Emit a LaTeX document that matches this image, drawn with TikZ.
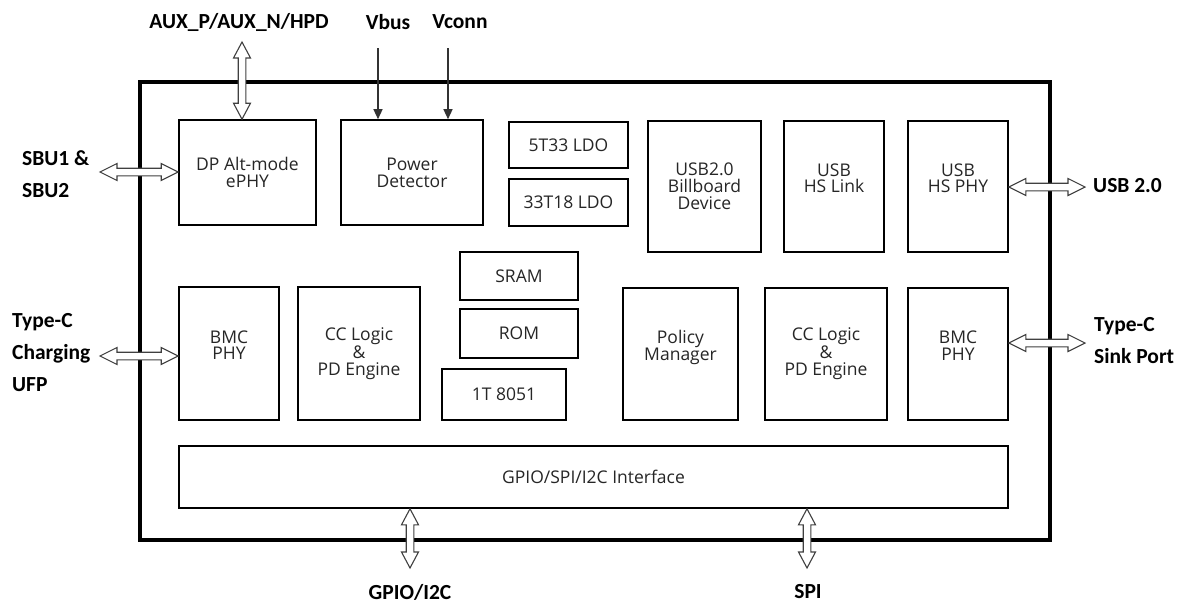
\documentclass[tikz,border=0pt]{standalone}
\usepackage{fontspec}
\setmainfont{Open Sans}
\newfontfamily\lblfont{Carlito}
\usetikzlibrary{calc,arrows.meta}
% hollow double arrows (horizontal / vertical) between two coordinates
\newcommand\hdarrow[2]{%
  \draw[harrow] let \p1=#1, \p2=#2 in
    (\x1,\y1) -- (\x1+17pt,\y1+8.5pt) -- (\x1+17pt,\y1+3.8pt) -- (\x2-17pt,\y1+3.8pt)
    -- (\x2-17pt,\y1+8.5pt) -- (\x2,\y1) -- (\x2-17pt,\y1-8.5pt) -- (\x2-17pt,\y1-3.8pt)
    -- (\x1+17pt,\y1-3.8pt) -- (\x1+17pt,\y1-8.5pt) -- cycle;}
\newcommand\vdarrow[2]{%
  \draw[harrow] let \p1=#1, \p2=#2 in
    (\x1,\y1) -- (\x1+8.5pt,\y1-16pt) -- (\x1+3.8pt,\y1-16pt) -- (\x1+3.8pt,\y2+16pt)
    -- (\x1+8.5pt,\y2+16pt) -- (\x1,\y2) -- (\x1-8.5pt,\y2+16pt) -- (\x1-3.8pt,\y2+16pt)
    -- (\x1-3.8pt,\y1-16pt) -- (\x1-8.5pt,\y1-16pt) -- cycle;}
\newcommand\blkbox[6]{%
  \node[blk, minimum width={(#4-#2)*1pt}, minimum height={(#5-#3)*1pt}]
    (#1) at ({(#2+#4)/2},{(#3+#5)/2}) {#6};}
\begin{document}
\begin{tikzpicture}[x=1pt,y=-1pt,
  blk/.style={draw=black, line width=1.6pt, fill=white, align=center, inner sep=0pt,
    font=\fontsize{17.5}{16.8}\selectfont, text=black!85},
  chip/.style={draw=black, line width=3.2pt, fill=white},
  harrow/.style={draw=black!75, line width=1.1pt, fill=white, line join=miter},
  parrow/.style={draw=black!80, line width=1.3pt, -{Triangle[length=10pt,width=9pt]}},
  lbl/.style={font=\lblfont\bfseries\fontsize{21.5}{32}\selectfont, align=left, inner sep=0pt}]
\useasboundingbox (0,0) rectangle (1182,603);

\node[chip, minimum width=910pt, minimum height=458pt] (chipbox) at (595,311) {};

\blkbox{dp}{179}{120}{316}{225}{DP Alt-mode\\ePHY}
\blkbox{pd}{341}{120}{483}{225}{Power\\Detector}
\blkbox{ldoa}{509}{122}{628}{168}{5T33 LDO}
\blkbox{ldob}{509}{179}{628}{226}{33T18 LDO}
\blkbox{bb}{648}{121}{761}{252}{USB2.0\\Billboard\\Device}
\blkbox{hsl}{784}{121}{884}{252}{USB\\HS Link\\\mbox{}}
\blkbox{hsp}{908}{121}{1008}{252}{USB\\HS PHY\\\mbox{}}
\blkbox{bmcl}{179}{287}{279}{420}{BMC\\PHY\\\mbox{}}
\blkbox{ccl}{298}{287}{420}{420}{CC Logic\\\&\\PD Engine}
\blkbox{sram}{460}{252}{578}{300}{SRAM}
\blkbox{rom}{460}{309}{578}{358}{ROM}
\blkbox{cpu}{442}{369}{566}{420}{1T 8051}
\blkbox{pm}{623}{288}{738}{420}{Policy\\Manager\\\mbox{}}
\blkbox{ccr}{765}{288}{887}{420}{CC Logic\\\&\\PD Engine}
\blkbox{bmcr}{908}{288}{1008}{420}{BMC\\PHY\\\mbox{}}
\blkbox{gpio}{179}{446}{1008}{508}{GPIO/SPI/I2C Interface}

% external labels
\node[lbl] (auxl) at (239,22) {AUX\_P/AUX\_N/HPD};
\node[lbl] (vbusl) at (388,22) {Vbus};
\node[lbl] (vconnl) at (460,22) {Vconn};
\node[lbl, anchor=west] (sbul) at (22,174) {SBU1 \&\\SBU2};
\node[lbl, anchor=west] (usbl) at (1093,186) {USB 2.0};
\node[lbl, anchor=west] (tcl) at (12,353) {Type-C\\Charging\\UFP};
\node[lbl, anchor=west] (tcr) at (1094,341) {Type-C\\Sink Port};
\node[lbl] (gpiol) at (410,592) {GPIO/I2C};
\node[lbl] (spil) at (808,592) {SPI};

% connector end points
\coordinate (auxT) at (242,42);
\coordinate (sbuL) at (100,172);
\coordinate (usbR) at (1085,187);
\coordinate (tcL) at (100,356);
\coordinate (tcR) at (1085,343);
\coordinate (gpioB) at (410,568);
\coordinate (spiB) at (807,568);
\coordinate (vbusT) at (378,48);
\coordinate (vconnT) at (448,48);

% hollow double arrows
\vdarrow{(auxT)}{(auxT |- dp.north)}
\hdarrow{(sbuL)}{(sbuL -| dp.west)}
\hdarrow{(usbR -| hsp.east)}{(usbR)}
\hdarrow{(tcL)}{(tcL -| bmcl.west)}
\hdarrow{(tcR -| bmcr.east)}{(tcR)}
\vdarrow{(gpioB |- gpio.south)}{(gpioB)}
\vdarrow{(spiB |- gpio.south)}{(spiB)}

% power arrows
\draw[parrow] (vbusT) -- (vbusT |- pd.north);
\draw[parrow] (vconnT) -- (vconnT |- pd.north);
\end{tikzpicture}
\end{document}
